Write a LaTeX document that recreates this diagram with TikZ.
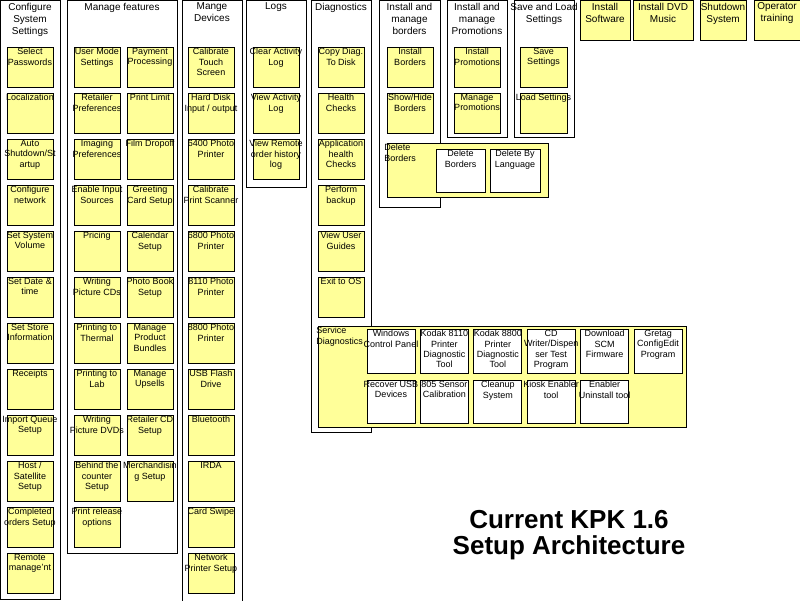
\documentclass[tikz,border=0pt]{standalone}
\usepackage{fontspec}
\setmainfont{Liberation Sans}
\usetikzlibrary{positioning}
\definecolor{kpkyellow}{RGB}{255,255,153}

\begin{document}
\begin{tikzpicture}[x=1pt,y=-1pt,line width=.9pt,node distance=6pt,
  grp/.style={draw,fill=white,anchor=north west,inner sep=0pt,outer sep=0pt},
  item/.style={draw,fill=kpkyellow,anchor=north west,minimum width=46pt,minimum height=40pt,inner sep=0pt,outer sep=0pt},
  sub/.style={draw,fill=white,anchor=north west,minimum width=48pt,minimum height=44pt,inner sep=0pt,outer sep=0pt},
  txt/.style={font=\fontsize{9}{10.2}\selectfont,align=center,inner sep=1pt},
  head/.style={font=\fontsize{10}{12}\selectfont,align=center,inner sep=1pt,yshift=-1.5pt},
  lbl/.style={label={[txt,anchor=north]north:#1}},
  hlbl/.style={label={[head,anchor=north]north:#1}},
  title/.style={font=\fontsize{26}{26}\selectfont\bfseries,align=center}]
\useasboundingbox (0,0) rectangle (800,600);

% groups
\node[grp,minimum width=60pt,minimum height=599pt,hlbl={Configure\\System\\Settings}] (cfg) at (0,0) {};
\node[grp,minimum width=110pt,minimum height=553pt,hlbl={Manage features}] (feat) at (67,0) {};
\node[grp,minimum width=60pt,minimum height=606pt,hlbl={Mange\\Devices}] (dev) at (182,0) {};
\node[grp,minimum width=60pt,minimum height=187pt,hlbl={Logs}] (logs) at (246,0) {};
\node[grp,minimum width=60pt,minimum height=432pt,hlbl={Diagnostics}] (diag) at (311,0) {};
\node[grp,minimum width=61pt,minimum height=207pt,hlbl={Install and\\manage\\borders}] (brd) at (379,0) {};
\node[grp,minimum width=60pt,minimum height=137pt,hlbl={Install and\\manage\\Promotions}] (promo) at (447,0) {};
\node[grp,minimum width=60pt,minimum height=137pt,hlbl={Save and Load\\Settings}] (saveld) at (514,0) {};

% top row
\node[item,minimum width=50pt,hlbl={Install\\Software}] (instsw) at (580,0) {};
\node[item,minimum width=60pt,hlbl={Install DVD\\Music}] (instdvd) at (633,0) {};
\node[item,hlbl={Shutdown\\System}] (shutdown) at (700,0) {};
\node[item,hlbl={Operator\\training}] (optrain) at (754,0) {};

% configure system settings
\node[item,lbl={Select\\Passwords}] (selpw) at (7,47) {};
\node[item,lbl={Localization},below=of selpw] (local) {};
\node[item,lbl={Auto\\Shutdown/St\\artup},below=of local] (autoshut) {};
\node[item,lbl={Configure\\network},below=of autoshut] (confnet) {};
\node[item,lbl={Set System\\Volume},below=of confnet] (sysvol) {};
\node[item,lbl={Set Date \&\\time},below=of sysvol] (datetime) {};
\node[item,lbl={Set Store\\Information},below=of datetime] (storeinfo) {};
\node[item,lbl={Receipts},below=of storeinfo] (receipts) {};
\node[item,lbl={Import Queue\\Setup},below=of receipts] (importq) {};
\node[item,lbl={Host /\\Satellite\\Setup},below=of importq] (host) {};
\node[item,lbl={Completed\\orders Setup},below=of host] (completed) {};
\node[item,lbl={Remote\\manage’nt},below=of completed] (remote) {};

% manage features
\node[item,lbl={User Mode\\Settings}] (usermode) at (74,47) {};
\node[item,lbl={Retailer\\Preferences},below=of usermode] (retpref) {};
\node[item,lbl={Imaging\\Preferences},below=of retpref] (imgpref) {};
\node[item,lbl={Enable Input\\Sources},below=of imgpref] (inputsrc) {};
\node[item,lbl={Pricing},below=of inputsrc] (pricing) {};
\node[item,lbl={Writing\\Picture CDs},below=of pricing] (wrcd) {};
\node[item,lbl={Printing to\\Thermal},below=of wrcd] (prthermal) {};
\node[item,lbl={Printing to\\Lab},below=of prthermal] (prlab) {};
\node[item,lbl={Writing\\Picture DVDs},below=of prlab] (wrdvd) {};
\node[item,lbl={Behind the\\counter\\Setup},below=of wrdvd] (behind) {};
\node[item,lbl={Print release\\options},below=of behind] (prrelease) {};
\node[item,lbl={Payment\\Processing}] (payment) at (127,47) {};
\node[item,lbl={Print Limit},below=of payment] (prlimit) {};
\node[item,lbl={Film Dropoff},below=of prlimit] (film) {};
\node[item,lbl={Greeting\\Card Setup},below=of film] (greeting) {};
\node[item,lbl={Calendar\\Setup},below=of greeting] (calendar) {};
\node[item,lbl={Photo Book\\Setup},below=of calendar] (photobook) {};
\node[item,lbl={Manage\\Product\\Bundles},below=of photobook] (bundles) {};
\node[item,lbl={Manage\\Upsells},below=of bundles] (upsells) {};
\node[item,lbl={Retailer CD\\Setup},below=of upsells] (retcd) {};
\node[item,lbl={Merchandisin\\g Setup},below=of retcd] (merch) {};

% mange devices
\node[item,lbl={Calibrate\\Touch\\Screen}] (caltouch) at (188,47) {};
\node[item,lbl={Hard Disk\\Input / output},below=of caltouch] (harddisk) {};
\node[item,lbl={6400 Photo\\Printer},below=of harddisk] (pr6400) {};
\node[item,lbl={Calibrate\\Print Scanner},below=of pr6400] (calscan) {};
\node[item,lbl={6800 Photo\\Printer},below=of calscan] (pr6800) {};
\node[item,lbl={8110 Photo\\Printer},below=of pr6800] (pr8110) {};
\node[item,lbl={8800 Photo\\Printer},below=of pr8110] (pr8800) {};
\node[item,lbl={USB Flash\\Drive},below=of pr8800] (usb) {};
\node[item,lbl={Bluetooth},below=of usb] (bluetooth) {};
\node[item,lbl={IRDA},below=of bluetooth] (irda) {};
\node[item,lbl={Card Swipe},below=of irda] (cardswipe) {};
\node[item,lbl={Network\\Printer Setup},below=of cardswipe] (netprinter) {};

% logs
\node[item,lbl={Clear Activity\\Log}] (clearlog) at (253,47) {};
\node[item,lbl={View Activity\\Log},below=of clearlog] (viewlog) {};
\node[item,lbl={View Remote\\order history\\log},below=of viewlog] (remotelog) {};

% diagnostics
\node[item,lbl={Copy Diag.\\To Disk}] (copydiag) at (318,47) {};
\node[item,lbl={Health\\Checks},below=of copydiag] (health) {};
\node[item,lbl={Application\\health\\Checks},below=of health] (apphealth) {};
\node[item,lbl={Perform\\backup},below=of apphealth] (backup) {};
\node[item,lbl={View User\\Guides},below=of backup] (guides) {};
\node[item,lbl={Exit to OS},below=of guides] (exitos) {};

% service diagnostics
\node[item,minimum width=368pt,minimum height=101pt,
  label={[txt,align=left,anchor=north west,xshift=-3pt]north west:Service\\Diagnostics}] (servdiag) at (318,326) {};
\node[sub,lbl={Windows\\Control Panel}] (wincp) at (367,329) {};
\node[sub,lbl={Kodak 8110\\Printer\\Diagnostic\\Tool},right=5.4pt of wincp] (diag8110) {};
\node[sub,lbl={Kodak 8800\\Printer\\Diagnostic\\Tool},right=5.4pt of diag8110] (diag8800) {};
\node[sub,lbl={CD\\Writer/Dispen\\ser Test\\Program},right=5.4pt of diag8800] (cdtest) {};
\node[sub,lbl={Download\\SCM\\Firmware},right=5.4pt of cdtest] (scm) {};
\node[sub,lbl={Gretag\\ConfigEdit\\Program},right=5.4pt of scm] (gretag) {};
\node[sub,minimum height=43pt,lbl={Recover USB\\Devices},below=7pt of wincp] (recusb) {};
\node[sub,minimum height=43pt,lbl={805 Sensor\\Calibration},right=5.4pt of recusb] (sensor) {};
\node[sub,minimum height=43pt,lbl={Cleanup\\System},right=5.4pt of sensor] (cleanup) {};
\node[sub,minimum height=43pt,lbl={Kiosk Enabler\\tool},right=5.4pt of cleanup] (kiosk) {};
\node[sub,minimum height=43pt,lbl={Enabler\\Uninstall tool},right=5.4pt of kiosk] (uninst) {};

% borders
\node[item,lbl={Install\\Borders}] (instbrd) at (387,47) {};
\node[item,lbl={Show/Hide\\Borders},below=of instbrd] (showbrd) {};
\node[item,minimum width=161pt,minimum height=54pt,
  label={[txt,align=left,anchor=north west,xshift=-4pt]north west:Delete\\Borders}] (delbrd) at (387,143) {};
\node[sub,minimum width=49pt,minimum height=43pt,lbl={Delete\\Borders}] (delbrd1) at (436,149) {};
\node[sub,minimum width=50pt,minimum height=43pt,lbl={Delete By\\Language},right=5pt of delbrd1] (dellang) {};

% promotions, save and load
\node[item,lbl={Install\\Promotions}] (instpromo) at (454,47) {};
\node[item,lbl={Manage\\Promotions},below=of instpromo] (manpromo) {};
\node[item,minimum width=47pt,lbl={Save\\Settings}] (save) at (520,47) {};
\node[item,minimum width=47pt,lbl={Load Settings},below=of save] (load) {};

\node[title] (ttl) at (569,535) {Current KPK 1.6\\Setup Architecture};
\end{tikzpicture}
\end{document}
